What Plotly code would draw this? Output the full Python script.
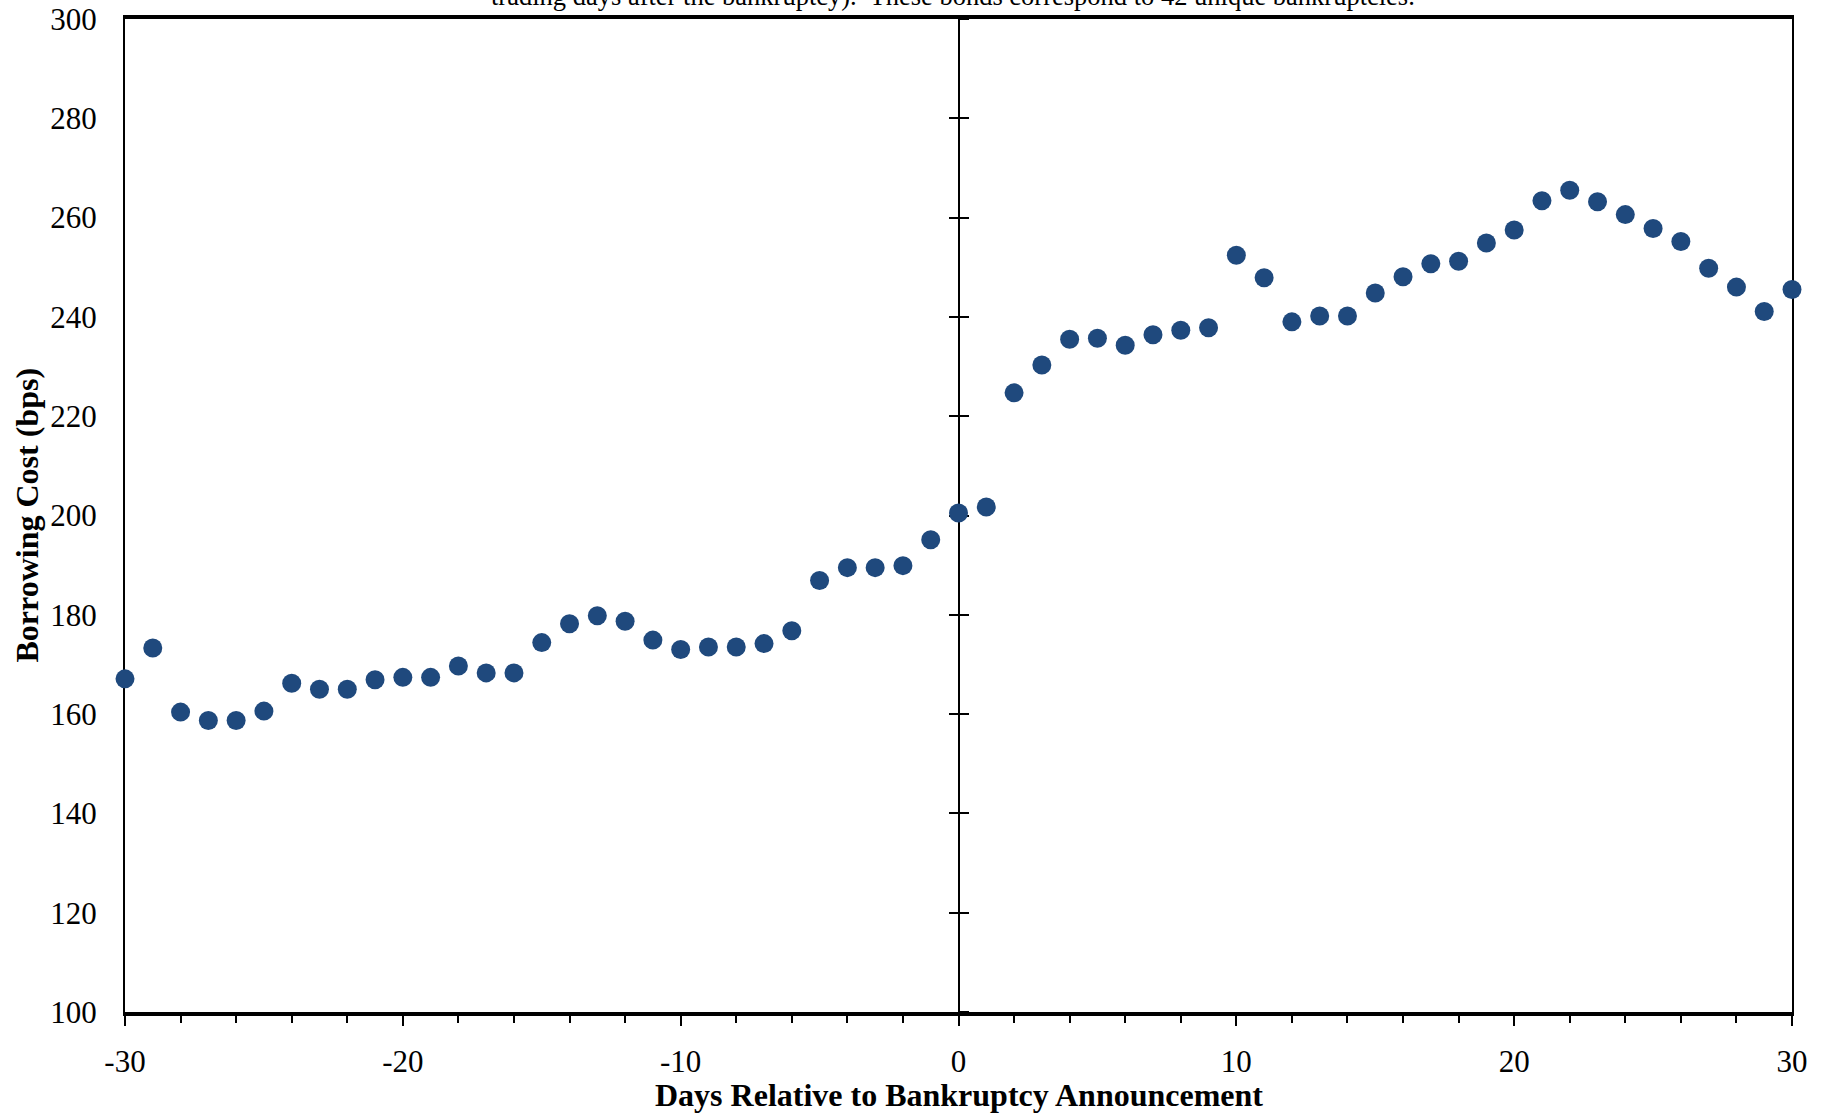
import plotly.graph_objects as go

days = list(range(-30, 31))
borrowing_cost = [
    167.1, 173.3, 160.4, 158.7, 158.7, 160.6, 166.2, 165.0, 165.0, 166.9,
    167.4, 167.4, 169.7, 168.3, 168.3, 174.4, 178.2, 179.8, 178.7, 174.9,
    173.0, 173.5, 173.5, 174.2, 176.8, 186.9, 189.5, 189.5, 189.9, 195.1,
    200.5,
    201.7, 224.7, 230.3, 235.5, 235.7, 234.3, 236.4, 237.3, 237.8, 252.4,
    247.9, 239.0, 240.2, 240.2, 244.8, 248.1, 250.7, 251.2, 254.9, 257.5,
    263.4, 265.5, 263.2, 260.6, 257.8, 255.2, 249.8, 246.0, 241.1, 245.5,
]
x_ticks = [-30, -20, -10, 0, 10, 20, 30]
y_ticks = [100, 120, 140, 160, 180, 200, 220, 240, 260, 280, 300]

x_title = "Days Relative to Bankruptcy Announcement"
y_title = "Borrowing Cost (bps)"
top_note = "trading days after the bankruptcy).  These bonds correspond to 42 unique bankruptcies."

FONT = "Liberation Serif, Times New Roman, serif"
W, H = 1829, 1114
ML, MR, MT, MB = 125, 37, 19, 102
PW, PH = W - ML - MR, H - MT - MB

fig = go.Figure()
fig.add_trace(go.Scatter(
    x=days, y=borrowing_cost, mode="markers",
    marker=dict(color="#1F497D", size=19, line=dict(width=0)),
    cliponaxis=False, showlegend=False,
))
# invisible traces to activate the extra axes
fig.add_trace(go.Scatter(x=[days[0]], y=[borrowing_cost[0]], yaxis="y2",
                         mode="markers", marker=dict(opacity=0), showlegend=False, hoverinfo="skip"))
fig.add_trace(go.Scatter(x=[days[0]], y=[borrowing_cost[0]], yaxis="y3",
                         mode="markers", marker=dict(opacity=0), showlegend=False, hoverinfo="skip"))

fig.update_layout(
    width=W, height=H,
    margin=dict(l=ML, r=MR, t=MT, b=MB, autoexpand=False),
    paper_bgcolor="white", plot_bgcolor="white",
    font=dict(family=FONT, size=31, color="black"),
    xaxis=dict(
        range=[-30, 30], tickvals=x_ticks, ticktext=[str(v) for v in x_ticks],
        showgrid=False, zeroline=False,
        showline=True, linewidth=3.5, linecolor="black", mirror=True,
        ticks="outside", ticklen=10, tickwidth=2, tickcolor="black",
        minor=dict(dtick=2, tick0=0, ticks="outside", ticklen=7, tickwidth=2,
                   tickcolor="black", showgrid=False),
        ticklabelstandoff=9,
        tickfont=dict(family=FONT, size=31, color="black"),
        layer="below traces",
    ),
    yaxis=dict(
        range=[100, 300], tickvals=y_ticks, ticktext=[str(v) for v in y_ticks],
        showgrid=False, zeroline=False,
        showline=True, linewidth=2, linecolor="black", mirror=True,
        ticks="", ticklabelstandoff=20,
        tickfont=dict(family=FONT, size=31, color="black"),
        layer="below traces",
    ),
    yaxis2=dict(
        range=[100, 300], overlaying="y", anchor="free", position=0.5, side="right",
        tickvals=y_ticks, showticklabels=False, showgrid=False, zeroline=False,
        showline=True, linewidth=1.5, linecolor="black",
        ticks="outside", ticklen=10, tickwidth=1.5, tickcolor="black",
        layer="below traces",
    ),
    yaxis3=dict(
        range=[100, 300], overlaying="y", anchor="free", position=0.5, side="right",
        tickvals=y_ticks, showticklabels=False, showgrid=False, zeroline=False,
        showline=False,
        ticks="inside", ticklen=10, tickwidth=1.5, tickcolor="black",
        layer="below traces",
    ),
    annotations=[
        dict(text="<b>" + x_title + "</b>", xref="paper", yref="paper",
             x=0.5, y=-(1095 - (MT + PH)) / PH, xanchor="center", yanchor="middle",
             showarrow=False, font=dict(family=FONT, size=32, color="black")),
        dict(text="<b>" + y_title + "</b>", xref="paper", yref="paper",
             x=(26 - ML) / PW, y=0.5, xanchor="center", yanchor="middle", textangle=-90,
             showarrow=False, font=dict(family=FONT, size=32, color="black")),
        dict(text=top_note, xref="paper", yref="paper",
             x=(953 - ML) / PW, y=1 + (MT - 13) / PH, xanchor="center", yanchor="bottom",
             showarrow=False, font=dict(family=FONT, size=26.5, color="black")),
    ],
)

fig.write_html("out.html", config={"displayModeBar": False},
               post_script="document.body.style.margin='0';document.body.style.overflow='hidden';")
